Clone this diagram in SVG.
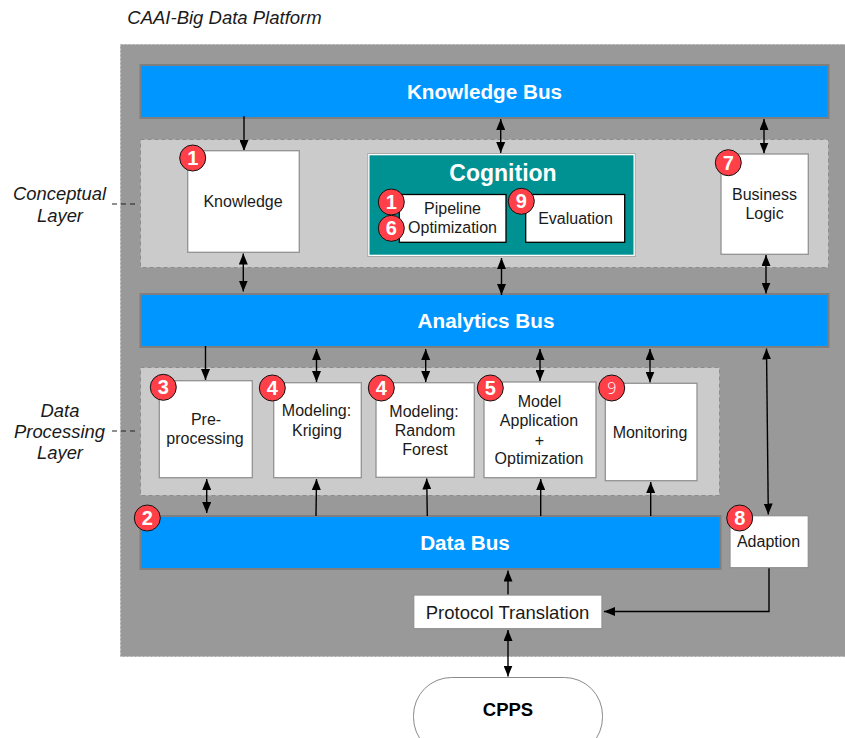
<svg xmlns="http://www.w3.org/2000/svg" width="845" height="738" viewBox="0 0 845 738">
<style>
text{font-family:"Liberation Sans",Arial,sans-serif;fill:#1a1a1a;text-anchor:middle}
.bus{fill:#0096ff;stroke:#7f7f7f;stroke-width:2}
.busT{fill:#fff;font-weight:bold;font-size:20.7px}
.layer{fill:#cbcbcb;stroke:#8c8c8c;stroke-width:1;stroke-dasharray:4 3}
.box{fill:#fff;stroke:#929292;stroke-width:1.3}
.inner{fill:#fff;stroke:#000;stroke-width:1.3}
.lbl{font-size:16px}
.ital{font-style:italic;font-size:18.4px}
.badge{fill:#ff4048;stroke:#111;stroke-width:1}
.num{fill:#fff;font-weight:bold;font-size:20px}
.c{fill:none;stroke:#000;stroke-width:1.4}
.dash{fill:none;stroke:#222;stroke-width:1.2;stroke-dasharray:5 4}
</style>
<defs>
<marker id="e" markerUnits="userSpaceOnUse" markerWidth="11" markerHeight="9" refX="11" refY="4.5" viewBox="0 0 11 9" orient="auto-start-reverse"><path d="M0 0L11 4.5L0 9z" fill="#000"/></marker>
</defs>
<rect id="platform" x="120.500" y="44.500" width="730" height="612" fill="#999" stroke="#aaa" stroke-width="1" stroke-dasharray="2 2"/>
<text class="ital" x="224.500" y="24" style="font-size:18.500px">CAAI-Big Data Platform</text>
<g id="knowledge-bus"><rect class="bus" x="140.500" y="65" width="688" height="53"/><text class="busT" x="484.500" y="99">Knowledge Bus</text></g>
<g id="conceptual-layer"><rect class="layer" x="140.500" y="139.500" width="688" height="128"/><text class="ital" x="59.500" y="200">Conceptual</text><text class="ital" x="60" y="222">Layer</text></g>
<g id="analytics-bus"><rect class="bus" x="140.500" y="294" width="688" height="53"/><text class="busT" x="486" y="328">Analytics Bus</text></g>
<g id="data-layer"><rect class="layer" x="140.500" y="367.500" width="579" height="128"/><text class="ital" x="60" y="417">Data</text><text class="ital" x="59.500" y="438">Processing</text><text class="ital" x="60" y="459">Layer</text></g>
<g id="data-bus"><rect class="bus" x="140.500" y="516" width="580" height="53"/><text class="busT" x="465" y="550">Data Bus</text><circle class="badge" cx="147.300" cy="518" r="13"/><text class="num" x="147.300" y="525">2</text></g>
<g id="connectors">
<path class="c" d="M244 116V151" marker-end="url(#e)"/>
<path class="c" d="M500.700 119V153" marker-start="url(#e)" marker-end="url(#e)"/>
<path class="c" d="M764 119V153.500" marker-start="url(#e)" marker-end="url(#e)"/>
<path class="c" d="M243.300 253.500V291.500" marker-start="url(#e)" marker-end="url(#e)"/>
<path class="c" d="M501.500 258V295" marker-start="url(#e)" marker-end="url(#e)"/>
<path class="c" d="M766 255V293.500" marker-start="url(#e)" marker-end="url(#e)"/>
<path class="c" d="M205.500 346V380" marker-end="url(#e)"/>
<path class="c" d="M316.500 349V382" marker-start="url(#e)" marker-end="url(#e)"/>
<path class="c" d="M425.700 349V382" marker-start="url(#e)" marker-end="url(#e)"/>
<path class="c" d="M540 349V381" marker-start="url(#e)" marker-end="url(#e)"/>
<path class="c" d="M650 349V382.500" marker-start="url(#e)" marker-end="url(#e)"/>
<path class="c" d="M766.500 348.500L768.300 514.500" marker-start="url(#e)" marker-end="url(#e)"/>
<path class="c" d="M206.700 479V513" marker-start="url(#e)" marker-end="url(#e)"/>
<path class="c" d="M316 516L316.500 479" marker-end="url(#e)"/>
<path class="c" d="M427.300 516L426.700 478.500" marker-end="url(#e)"/>
<path class="c" d="M540.700 516V479" marker-end="url(#e)"/>
<path class="c" d="M650.700 516V482" marker-end="url(#e)"/>
<path class="c" d="M508 595V570.500" marker-end="url(#e)"/>
<path class="c" d="M508 630V676.500" marker-start="url(#e)" marker-end="url(#e)"/>
<path class="c" d="M769 568V611.500H604" marker-end="url(#e)"/>
<path class="dash" d="M112 204H139"/>
<path class="dash" d="M112 431H139"/>
</g>
<g id="knowledge"><rect class="box" x="187.700" y="150.700" width="111.600" height="101.600"/><text class="lbl" x="243" y="207">Knowledge</text><circle class="badge" cx="192.700" cy="158" r="13"/><text class="num" x="192.700" y="165">1</text></g>
<g id="cognition"><rect x="367.700" y="153.500" width="267.600" height="103" fill="#fff" stroke="#aaa" stroke-width="1"/><rect x="369.500" y="155.300" width="264" height="99.400" fill="#009193"/><text x="503" y="181" style="fill:#fff;font-weight:bold;font-size:23px">Cognition</text></g>
<g id="pipeline"><rect class="inner" x="399.300" y="194.500" width="106.700" height="47.800"/><text class="lbl" x="452.500" y="214">Pipeline</text><text class="lbl" x="452.500" y="233">Optimization</text><circle class="badge" cx="391.300" cy="202" r="13"/><text class="num" x="391.300" y="209">1</text><circle class="badge" cx="391.300" cy="228.300" r="13"/><text class="num" x="391.300" y="235.300">6</text></g>
<g id="evaluation"><rect class="inner" x="525.700" y="194.500" width="99" height="47.800"/><text class="lbl" x="575.500" y="224">Evaluation</text><circle class="badge" cx="521.300" cy="201.300" r="13"/><text class="num" x="521.300" y="208.300">9</text></g>
<g id="business-logic"><rect class="box" x="721" y="154" width="87.300" height="100.300"/><text class="lbl" x="764.500" y="200">Business</text><text class="lbl" x="764.500" y="219">Logic</text><circle class="badge" cx="728.300" cy="162.700" r="13"/><text class="num" x="728.300" y="169.700">7</text></g>
<g id="preprocessing"><rect class="box" x="159.300" y="380.700" width="93" height="97"/><text class="lbl" x="206" y="425">Pre-</text><text class="lbl" x="205" y="444">processing</text><circle class="badge" cx="163.300" cy="387.300" r="13"/><text class="num" x="163.300" y="394.300">3</text></g>
<g id="kriging"><rect class="box" x="273.700" y="382.700" width="87.600" height="95"/><text class="lbl" x="316.500" y="416">Modeling:</text><text class="lbl" x="317" y="436">Kriging</text><circle class="badge" cx="272.300" cy="388" r="13"/><text class="num" x="272.300" y="395">4</text></g>
<g id="random-forest"><rect class="box" x="376" y="382.700" width="98.300" height="94.600"/><text class="lbl" x="424" y="417">Modeling:</text><text class="lbl" x="425" y="436">Random</text><text class="lbl" x="425" y="455">Forest</text><circle class="badge" cx="381.300" cy="388" r="13"/><text class="num" x="381.300" y="395">4</text></g>
<g id="model-application"><rect class="box" x="484" y="382" width="112" height="95.700"/><text class="lbl" x="539.500" y="407">Model</text><text class="lbl" x="539" y="426">Application</text><text class="lbl" x="539.500" y="446">+</text><text class="lbl" x="539" y="464">Optimization</text><circle class="badge" cx="490.300" cy="388" r="13"/><text class="num" x="490.300" y="395">5</text></g>
<g id="monitoring"><rect class="box" x="605.300" y="383.300" width="91.700" height="97.400"/><text class="lbl" x="650" y="438">Monitoring</text><circle class="badge" cx="611.700" cy="388" r="13"/><text x="611.700" y="394" style="fill:#fff;font-size:16px;font-family:'Open Sans',sans-serif;font-weight:300">9</text></g>
<g id="adaption"><rect class="box" x="730" y="515.700" width="78.300" height="52"/><text class="lbl" x="768.500" y="547">Adaption</text><circle class="badge" cx="739.700" cy="518" r="13"/><text class="num" x="739.700" y="525">8</text></g>
<g id="protocol"><rect class="box" x="413.700" y="595" width="188.300" height="33.700"/><text x="507.500" y="619" style="font-size:18.500px">Protocol Translation</text></g>
<g id="cpps"><rect x="413.500" y="677.500" width="189" height="78" rx="38" ry="38" fill="#fff" stroke="#8a8a8a" stroke-width="1"/><text x="508" y="716" style="font-weight:bold;font-size:18.500px;fill:#000">CPPS</text></g>
</svg>
